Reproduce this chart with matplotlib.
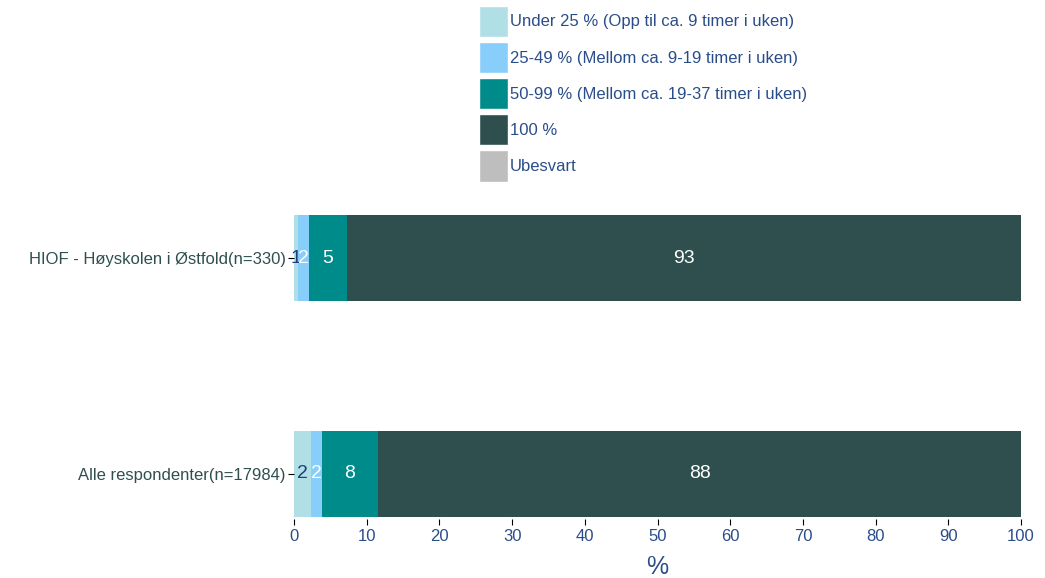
import matplotlib
matplotlib.use("Agg")
import matplotlib.pyplot as plt
from matplotlib.patches import Patch

plt.rcParams['font.family'] = ['Liberation Sans', 'DejaVu Sans']

# Data
groups = ['Alle respondenter(n=17984)', 'HIOF - Høyskolen i Østfold(n=330)']
series = ['Under 25 % (Opp til ca. 9 timer i uken)',
          '25-49 % (Mellom ca. 9-19 timer i uken)',
          '50-99 % (Mellom ca. 19-37 timer i uken)',
          '100 %',
          'Ubesvart']
values = {
    series[0]: [2.3, 0.6],
    series[1]: [1.5, 1.5],
    series[2]: [7.8, 5.2],
    series[3]: [88.4, 92.7],
    series[4]: [0.0, 0.0],
}
labels = {
    series[0]: ['2', '1'],
    series[1]: ['2', '2'],
    series[2]: ['8', '5'],
    series[3]: ['88', '93'],
    series[4]: ['', ''],
}
colors = ['#b0dfe5', '#87cefa', '#008b8b', '#2f4f4f', '#bebebe']
label_colors = ['#1f3f7a', 'white', 'white', 'white', 'white']
blue = '#2a4d8a'

fig = plt.figure(figsize=(10.45, 5.78), dpi=100)
ax = fig.add_axes([294 / 1045, 59 / 578, 727 / 1045, 319 / 578])

ypos = [0, 1]
left = [0, 0]
for s, c, lc in zip(series, colors, label_colors):
    vals = values[s]
    ax.barh(ypos, vals, left=left, height=0.4, color=c)
    for y, l, v, txt in zip(ypos, left, vals, labels[s]):
        if v > 0 and txt:
            ax.text(l + v / 2, y, txt, ha='center', va='center', color=lc, fontsize=14)
    left = [a + b for a, b in zip(left, vals)]

ax.set_xlim(0, 100)
ax.set_ylim(-0.21, 1.27)
ax.set_xticks(range(0, 101, 10))
ax.set_yticks(ypos)
ax.set_yticklabels(groups, fontsize=12, color='#2f4f4f')
ax.tick_params(axis='x', labelsize=12, labelcolor=blue, length=4, pad=3)
ax.tick_params(axis='y', length=4, pad=2)
ax.set_xlabel('%', fontsize=18, color=blue, labelpad=8)
for sp in ax.spines.values():
    sp.set_visible(False)

handles = [Patch(facecolor=c, edgecolor='white') for c in colors]
leg = fig.legend(handles, series, loc='upper left', bbox_to_anchor=(472 / 1045, 1 + 1 / 578),
                 frameon=False, fontsize=12, handlelength=1.75, handleheight=2.5,
                 handletextpad=0.1, labelspacing=0.3, borderaxespad=0)
for t in leg.get_texts():
    t.set_color(blue)

fig.savefig('out.png', dpi=100)
